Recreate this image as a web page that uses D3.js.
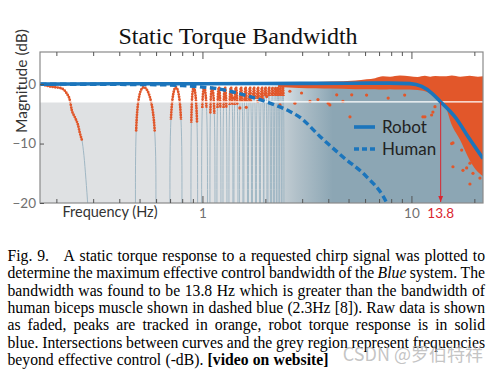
<!DOCTYPE html>
<html>
<head>
<meta charset="utf-8">
<script src="https://cdn.jsdelivr.net/npm/d3@7"></script>
<style>
body { margin: 0; background: #fff; }
svg { display: block; }
</style>
</head>
<body>
<svg id="chart"></svg>
<script>
// ---- data ----
var robotHz = [0.167, 0.4, 1, 2.93, 5, 7.88, 9.84, 11.2, 12.5, 13.8, 15.6, 16.15, 18.7, 21.7, 22];
var robotDb = [0, 0.05, 0.05, 0.12, 0.15, 0.17, 0.08, -0.4, -1.5, -3.0, -4.9, -5.5, -8.9, -12.2, -12.5];

var humanHz = [0.167, 0.6, 0.8, 1.0, 1.17, 1.354, 1.688, 2.1, 2.62, 2.93, 3.65, 4.72, 6.11, 7.33, 7.75];
var humanDb = [0, -0.1, -0.25, -0.5, -0.75, -1.2, -2.1, -3.2, -4.6, -5.6, -8.8, -12.3, -15.6, -18.9, -20.5];

// first roll-off of the raw trace at the low end
var dropHz = [0.167, 0.170, 0.186, 0.212, 0.224, 0.232, 0.237, 0.245, 0.254, 0.259, 0.265, 0.271, 0.277, 0.283];
var dropDb = [0, -0.05, -0.4, -0.72, -1.56, -2.69, -4.37, -5.55, -6.9, -8.2, -9.4, -12, -16, -20.5];

// raw chirp lobes: [foot left Hz, peak Hz, foot right Hz, lowest tracked peak dB]
var lobes = [
    [0.478, 0.519, 0.599, -8],
    [0.699, 0.747, 0.798, -6],
    [0.881, 0.906, 0.948, -6.5],
    [0.991, 1.017, 1.057, -4],
    [1.086, 1.110, 1.148, -5],
    [1.173, 1.199, 1.226, -4],
    [1.254, 1.281, 1.310, -4],
    [1.339, 1.369, 1.399, -3.5],
    [1.415, 1.446, 1.479, -3.5],
    [1.503, 1.528, 1.562, -3],
    [1.579, 1.606, 1.642, -3],
    [1.660, 1.688, 1.716, -3],
    [1.735, 1.764, 1.793, -2.5],
    [1.813, 1.844, 1.874, -2.5],
    [1.895, 1.926, 1.958, -2.5],
    [1.969, 2.002, 2.035, -2],
    [2.058, 2.081, 2.115, -2],
    [2.139, 2.162, 2.186, -2],
    [2.210, 2.235, 2.260, -2],
    [2.272, 2.297, 2.323, -2],
    [2.335, 2.361, 2.388, -2],
    [2.401, 2.427, 2.455, -2]
];

// dense tracked peaks (orange band)
var bandHz  = [2.3, 2.9, 3.5, 4.1, 5.4, 6.1, 6.7, 7.3, 7.9, 8.8, 9.8, 10.7, 11.6, 12.3, 13.0, 14.4, 15.6, 17.1, 19.0, 20.8, 22];
var bandTop = [0.1, 0.25, 0.35, 0.42, 0.6, 0.8, 1.0, 1.3, 1.25, 1.45, 1.3, 1.2, 1.4, 1.25, 1.35, 1.3, 1.45, 1.25, 1.4, 1.25, 1.3];
var bandLow = [-0.5, -0.65, -0.7, -0.75, -0.85, -0.85, -0.85, -0.9, -0.85, -0.9, -0.9, -1.0, -1.2, -1.6, -2.2, -3.4, -6.9, -9.4, -12.8, -14.8, -15.5];

// scattered tracked peaks
var scatterHz = [1.40, 1.51, 1.60, 1.62, 1.84, 2.03, 2.27, 2.35, 2.62, 2.77, 2.98, 3.27, 3.57, 4.00, 4.07, 4.39, 4.70, 5.08, 5.18, 6.1, 7.74, 9.28,
                 11.35, 11.6, 12.49, 12.67, 12.96, 15.57, 15.8, 15.8, 17.39, 17.64, 18.37, 19.05, 19.05, 19.7, 21.27];
var scatterDb = [-2.35, -4.0, -2.6, -3.9, -2.9, -2.1, -1.0, -3.5, -1.2, -3.2, -1.5, -2.9, -2.6, -3.2, -3.5, -1.8, -2.9, -5.5, -1.8, -1.85, -2.35, -1.85,
                 -5.5, -5.5, -5.2, -4.7, -3.8, -10.0, -9.9, -13.9, -11.1, -14.5, -14.1, -13.3, -16.8, -15.0, -15.8];

var xTicks = [0.2, 0.3, 0.4, 0.5, 0.6, 0.7, 0.8, 0.9, 1, 2, 3, 4, 5, 6, 7, 8, 9, 10, 20];
var xLabels = [1, 10];
var yTicks = [0, -10, -20];
var cutoffDb = -3;
var bandwidthHz = 13.8;
var denseFromHz = 1.9, denseFullHz = 4.2;

var captionLines = [
    "Fig. 9.   A static torque response to a requested chirp signal was plotted to",
    "determine the maximum effective control bandwidth of the _Blue_ system. The",
    "bandwidth was found to be 13.8 Hz which is greater than the bandwidth of",
    "human biceps muscle shown in dashed blue (2.3Hz [8]). Raw data is shown",
    "as faded, peaks are tracked in orange, robot torque response is in solid",
    "blue. Intersections between curves and the grey region represent frequencies",
    "beyond effective control (-dB). *[video on website]*"
];

// ---- layout ----
var WIDTH = 498, HEIGHT = 373;
var margin = { top: 52, right: 15, bottom: 170, left: 40 },
    width = WIDTH - margin.left - margin.right,
    height = HEIGHT - margin.top - margin.bottom;

var sans = "Lato, 'Open Sans', sans-serif";
var serif = "'Liberation Serif', 'Times New Roman', serif";
var blue = "#1b75bc", orange = "#e2572a", faded = "#a0b7c4", red = "#d9252f";

var svg = d3.select("#chart").attr("width", WIDTH).attr("height", HEIGHT);
var defs = svg.append("defs");

svg.append("text")
    .attr("x", 238).attr("y", 44)
    .attr("text-anchor", "middle")
    .style("font-family", serif).style("font-size", "24px").attr("fill", "#111")
    .text("Static Torque Bandwidth");

var root = svg.append("g").attr("transform", "translate(" + margin.left + "," + margin.top + ")");

var x = d3.scaleLog().domain([0.167, 22]).range([0, width]);
var y = d3.scaleLinear().domain([-20, 5.4]).range([height, 0]);

defs.append("clipPath").attr("id", "plot-clip")
    .append("rect").attr("width", width).attr("height", height);

var plot = root.append("g").attr("clip-path", "url(#plot-clip)");

// grey region beyond effective control
plot.append("rect")
    .attr("x", 0).attr("y", y(cutoffDb))
    .attr("width", width).attr("height", height - y(cutoffDb))
    .attr("fill", "#dfe1e3");

// dense raw data fades in
var grad = defs.append("linearGradient").attr("id", "dense")
    .attr("gradientUnits", "userSpaceOnUse")
    .attr("x1", x(denseFromHz)).attr("x2", x(denseFullHz)).attr("y1", 0).attr("y2", 0);
grad.append("stop").attr("offset", 0).attr("stop-color", "#8ca6b4").attr("stop-opacity", 0);
grad.append("stop").attr("offset", 0.5).attr("stop-color", "#8ca6b4").attr("stop-opacity", 0.55);
grad.append("stop").attr("offset", 1).attr("stop-color", "#8ca6b4").attr("stop-opacity", 1);

plot.append("rect")
    .attr("x", x(denseFromHz)).attr("y", y(0))
    .attr("width", width - x(denseFromHz)).attr("height", height - y(0))
    .attr("fill", "url(#dense)");

// raw lobes
var lobeLine = d3.line().curve(d3.curveBasis);
function lobePts(l) {
    return [[x(l[0]), y(-20.5)], [x(l[0]), y(-4)], [x(l[1]), y(1.2)], [x(l[2]), y(-4)], [x(l[2]), y(-20.5)]];
}

plot.selectAll(".lobe")
    .data(lobes)
    .enter().append("path")
    .attr("class", "lobe")
    .attr("d", function (d) { return lobeLine(lobePts(d)); })
    .attr("fill", "none").attr("stroke", faded).attr("stroke-width", 1);

var dropLine = d3.line()
    .x(function (d) { return x(d[0]); })
    .y(function (d) { return y(d[1]); })
    .curve(d3.curveMonotoneX);
var drop = dropHz.map(function (f, i) { return [f, dropDb[i]]; });

plot.append("path")
    .attr("d", dropLine(drop))
    .attr("fill", "none").attr("stroke", faded).attr("stroke-width", 1);

// tracked peaks
lobes.forEach(function (l, i) {
    defs.append("clipPath").attr("id", "lobe-clip-" + i)
        .append("rect").attr("x", 0).attr("y", 0).attr("width", width).attr("height", y(l[3]));
});
plot.selectAll(".lobe-peak")
    .data(lobes)
    .enter().append("path")
    .attr("class", "lobe-peak")
    .attr("clip-path", function (d, i) { return "url(#lobe-clip-" + i + ")"; })
    .attr("d", function (d) { return lobeLine(lobePts(d)); })
    .attr("fill", "none").attr("stroke", orange).attr("stroke-width", 2.8)
    .attr("stroke-linecap", "round").attr("stroke-dasharray", "0 2.6");

plot.append("path")
    .attr("d", dropLine(drop.filter(function (d) { return d[1] >= -9.5; })))
    .attr("fill", "none").attr("stroke", orange).attr("stroke-width", 2.8)
    .attr("stroke-linecap", "round").attr("stroke-dasharray", "0 2.6");

var band = bandHz.map(function (f, i) { return { f: f, top: bandTop[i], low: bandLow[i] }; });
plot.append("path")
    .attr("d", d3.area()
        .x(function (d) { return x(d.f); })
        .y0(function (d) { return y(d.low); })
        .y1(function (d) { return y(d.top); })
        .curve(d3.curveMonotoneX)(band))
    .attr("fill", orange);

plot.selectAll(".peak")
    .data(scatterHz.map(function (f, i) { return [f, scatterDb[i]]; }))
    .enter().append("circle")
    .attr("class", "peak")
    .attr("cx", function (d) { return x(d[0]); })
    .attr("cy", function (d) { return y(d[1]); })
    .attr("r", 1.6)
    .attr("fill", orange);

// -3 dB edge
plot.append("line")
    .attr("x1", 0).attr("x2", width)
    .attr("y1", y(cutoffDb)).attr("y2", y(cutoffDb))
    .attr("stroke", "#fff").attr("stroke-width", 1.3);

// curves
var curve = d3.line()
    .x(function (d) { return x(d[0]); })
    .y(function (d) { return y(d[1]); })
    .curve(d3.curveMonotoneX);

plot.append("path")
    .attr("d", curve(humanHz.map(function (f, i) { return [f, humanDb[i]]; })))
    .attr("fill", "none").attr("stroke", blue).attr("stroke-width", 3.4)
    .attr("stroke-dasharray", "6.5,3.5");

plot.append("path")
    .attr("d", curve(robotHz.map(function (f, i) { return [f, robotDb[i]]; })))
    .attr("fill", "none").attr("stroke", blue).attr("stroke-width", 3.6);

// bandwidth marker
defs.append("marker").attr("id", "arrow")
    .attr("viewBox", "0 0 10 10").attr("refX", 10).attr("refY", 5)
    .attr("markerWidth", 6).attr("markerHeight", 6).attr("orient", "auto")
    .append("path").attr("d", "M0,1 L10,5 L0,9 Z").attr("fill", red);

root.append("line")
    .attr("x1", x(bandwidthHz)).attr("x2", x(bandwidthHz))
    .attr("y1", y(cutoffDb)).attr("y2", height - 1)
    .attr("stroke", red).attr("stroke-width", 1)
    .attr("marker-end", "url(#arrow)");

// frame and axes
root.append("rect")
    .attr("width", width).attr("height", height)
    .attr("fill", "none").attr("stroke", "#8a8a8a").attr("stroke-width", 1.2);

var topAxis = root.append("g")
    .call(d3.axisBottom(x).tickValues(xTicks).tickSizeInner(4).tickSizeOuter(0).tickFormat(""));
topAxis.selectAll(".tick line").filter(function (d) { return xLabels.indexOf(d) >= 0; }).attr("y2", 7);

var bottomAxis = root.append("g")
    .attr("transform", "translate(0," + height + ")")
    .call(d3.axisBottom(x).tickValues(xTicks).tickSizeInner(-4).tickSizeOuter(0).tickPadding(5)
        .tickFormat(function (d) { return xLabels.indexOf(d) >= 0 ? d : ""; }));
bottomAxis.selectAll(".tick line").filter(function (d) { return xLabels.indexOf(d) >= 0; }).attr("y2", -7);

var leftAxis = root.append("g")
    .call(d3.axisLeft(y).tickValues(yTicks).tickSizeInner(-4).tickSizeOuter(0).tickPadding(4));

[topAxis, bottomAxis, leftAxis].forEach(function (a) {
    a.select(".domain").remove();
    a.selectAll(".tick line").attr("stroke", "#555");
    a.selectAll(".tick text").style("font-family", sans).style("font-size", "13.5px").attr("fill", "#707070");
});

root.append("text")
    .attr("x", x(bandwidthHz)).attr("y", height + 5).attr("dy", "0.71em")
    .attr("text-anchor", "middle")
    .style("font-family", sans).style("font-size", "13.5px").attr("fill", red)
    .text(bandwidthHz);

root.append("text")
    .attr("x", 70).attr("y", height + 14)
    .attr("text-anchor", "middle")
    .style("font-family", sans).style("font-size", "14.5px").attr("fill", "#333")
    .text("Frequency (Hz)");

svg.append("text")
    .attr("transform", "translate(26.5,81) rotate(-90)")
    .attr("text-anchor", "middle")
    .style("font-family", sans).style("font-size", "15.5px").attr("fill", "#333")
    .text("Magnitude (dB)");

// legend
var legend = root.append("g").attr("transform", "translate(314,75)");
legend.append("line").attr("x1", 0).attr("x2", 21).attr("y1", 0).attr("y2", 0)
    .attr("stroke", blue).attr("stroke-width", 3.6);
legend.append("line").attr("x1", 0).attr("x2", 21).attr("y1", 22).attr("y2", 22)
    .attr("stroke", blue).attr("stroke-width", 3.6).attr("stroke-dasharray", "5,3");
legend.append("text").attr("x", 28).attr("y", 6)
    .style("font-family", sans).style("font-size", "17px").attr("fill", "#222").text("Robot");
legend.append("text").attr("x", 28).attr("y", 28)
    .style("font-family", sans).style("font-size", "17px").attr("fill", "#222").text("Human");

// caption, justified word by word
var capX = 7.5, capW = 477.5, capY0 = 261, capStep = 17.33, capSize = 15.7;
var probe = svg.append("text").style("font-family", serif).style("font-size", capSize + "px");

captionLines.forEach(function (line, li) {
    var words = [], gaps = 0, bold = false, italic = false;
    line.split(" ").forEach(function (tok) {
        if (tok === "") { gaps += 1; return; }
        var b = bold, it = italic;
        if (tok[0] === "*") { bold = b = true; tok = tok.slice(1); }
        if (tok[0] === "_") { italic = it = true; tok = tok.slice(1); }
        if (tok[tok.length - 1] === "*") { bold = false; tok = tok.slice(0, -1); }
        if (tok[tok.length - 1] === "_") { italic = false; tok = tok.slice(0, -1); }
        probe.text(tok).style("font-weight", b ? "bold" : "normal").style("font-style", it ? "italic" : "normal");
        words.push({ t: tok, b: b, i: it, w: probe.node().getComputedTextLength(), gap: words.length ? gaps + 1 : 0 });
        gaps = 0;
    });
    var total = d3.sum(words, function (d) { return d.w; });
    var units = d3.sum(words, function (d) { return d.gap; });
    var unit = li < captionLines.length - 1 ? (capW - total) / units : capSize * 0.27;
    var pos = capX;
    words.forEach(function (d) { pos += d.gap * unit; d.x = pos; pos += d.w; });

    svg.append("text")
        .attr("y", capY0 + li * capStep)
        .style("font-family", serif).style("font-size", capSize + "px").attr("fill", "#000")
        .selectAll("tspan")
        .data(words)
        .enter().append("tspan")
        .attr("x", function (d) { return d.x; })
        .style("font-weight", function (d) { return d.b ? "bold" : "normal"; })
        .style("font-style", function (d) { return d.i ? "italic" : "normal"; })
        .text(function (d) { return d.t; });
});
probe.remove();

// watermark
svg.append("text")
    .attr("x", 483).attr("y", 361)
    .attr("text-anchor", "end")
    .style("font-family", "'Noto Sans CJK SC', 'Noto Sans', sans-serif").style("font-size", "18px")
    .attr("fill", "#b5b5b5").attr("fill-opacity", 0.8)
    .text("CSDN @罗伯特祥");
</script>
</body>
</html>
